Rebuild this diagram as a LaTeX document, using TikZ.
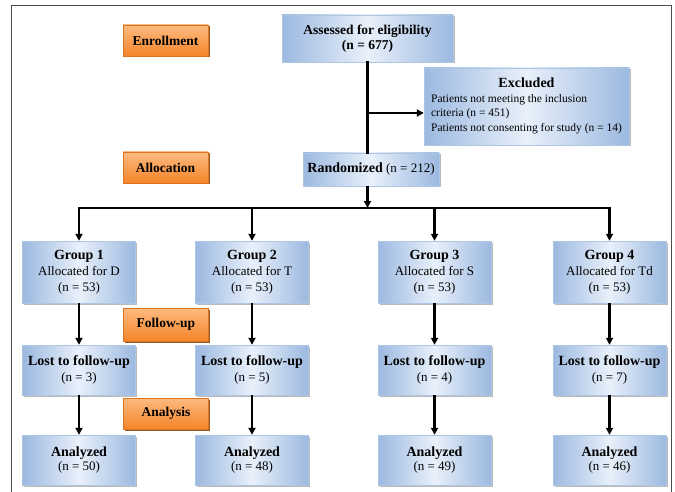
\documentclass[tikz,border=0pt]{standalone}
\usepackage{fontspec}
\setmainfont{Liberation Serif}
\usetikzlibrary{arrows.meta,shadows,positioning}
\definecolor{boxblue}{HTML}{9CB9E0}
\definecolor{boxpale}{HTML}{E8F0FA}
\definecolor{boxedge}{HTML}{AFC6E3}
\definecolor{stageorange}{HTML}{F5842A}
\definecolor{stagelight}{HTML}{FDBB80}
\definecolor{stageedge}{HTML}{DD7420}
\tikzset{
  flowbox/.style={draw=boxedge, left color=boxblue, right color=boxblue, middle color=boxpale,
    align=center, inner sep=2pt, font=\fontsize{13}{16}\selectfont,
    drop shadow={shadow xshift=1.5pt, shadow yshift=-1.5pt, fill=black!45, opacity=.6}},
  stage/.style={draw=stageedge, top color=stagelight, bottom color=stageorange,
    minimum width=85pt, minimum height=31pt, font=\bfseries\fontsize{13.5}{15}\selectfont,
    drop shadow={shadow xshift=1.5pt, shadow yshift=-1.5pt, fill=stageedge!60!black, opacity=.9}},
  flow/.style={line width=2.2pt, -{Triangle[length=7pt,width=7pt]}},
  bar/.style={line width=2.2pt, line cap=rect}
}
\newcommand{\boxtitle}[1]{{\bfseries\fontsize{14}{16}\selectfont #1}}

\begin{document}
\begin{tikzpicture}[x=1pt,y=-1pt]
    \useasboundingbox (0,0) rectangle (675,492);
    % frame of the figure
    \draw[black!70, line width=0.8pt] (11,492) -- (11,5) -- (671,5) -- (671,492);

    % stages on the left
    \node[stage] (enrol) at (165.5,40.5) {Enrollment};
    \node[stage] (alloc) at (165.5,167.5) {Allocation};
    \node[stage, minimum height=33pt] (fup) at (166,324.5) {Follow-up};
    \node[stage] (anal) at (166,413.5) {Analysis};

    % top of the flow
    \node[flowbox, minimum width=171pt, minimum height=47pt,
          font=\bfseries\fontsize{13.5}{15}\selectfont] (asse) at (367.5,38.5)
        {Assessed for eligibility\\(n = 677)};
    \node[flowbox, minimum width=205pt, minimum height=77pt,
          font=\fontsize{11.5}{14.5}\selectfont] (excl) at (526.5,106.5)
        {\begin{tabular}{@{}l@{}}
           \multicolumn{1}{@{}c@{}}{\boxtitle{Excluded}}\\
           Patients not meeting the inclusion\\
           criteria (n = 451)\\
           Patients not consenting for study (n = 14)
         \end{tabular}};
    \node[flowbox, minimum width=136pt, minimum height=33pt] (rand) at (371,169.5)
        {\boxtitle{Randomized} (n = 212)};

    \coordinate (splitlevel) at (0,113);
    \coordinate (barlevel) at (0,208);

    \draw[bar] (asse.south) -- (asse.south |- rand.north);
    \draw[flow] (asse.south |- splitlevel) -- (excl.west |- splitlevel);

    % the four groups
    \foreach \i/\x/\drug/\lost/\ana in {1/79/D/3/50, 2/252/T/5/48, 3/434.5/S/4/49, 4/609.5/Td/7/46} {
        \node[flowbox, minimum width=113pt, minimum height=62pt] (g\i) at (\x,272)
            {\boxtitle{Group \i}\\Allocated for \drug\\(n = 53)};
        \node[flowbox, minimum width=113pt, minimum height=50pt] (l\i) at (\x,370)
            {\boxtitle{Lost to follow-up}\\(n = \lost)};
        \node[flowbox, minimum width=113pt, minimum height=50pt,
              font=\fontsize{13}{14}\selectfont] (a\i) at (\x,460)
            {\boxtitle{Analyzed}\\(n = \ana)};
        \draw[flow] (g\i.north |- barlevel) -- (g\i);
        \draw[flow] (g\i) -- (l\i);
        \draw[flow] (l\i) -- (a\i);
    }

    \draw[bar] (g1.north |- barlevel) -- (g4.north |- barlevel);
    \draw[flow] (asse.south |- rand.south) -- (asse.south |- barlevel);
\end{tikzpicture}
\end{document}
